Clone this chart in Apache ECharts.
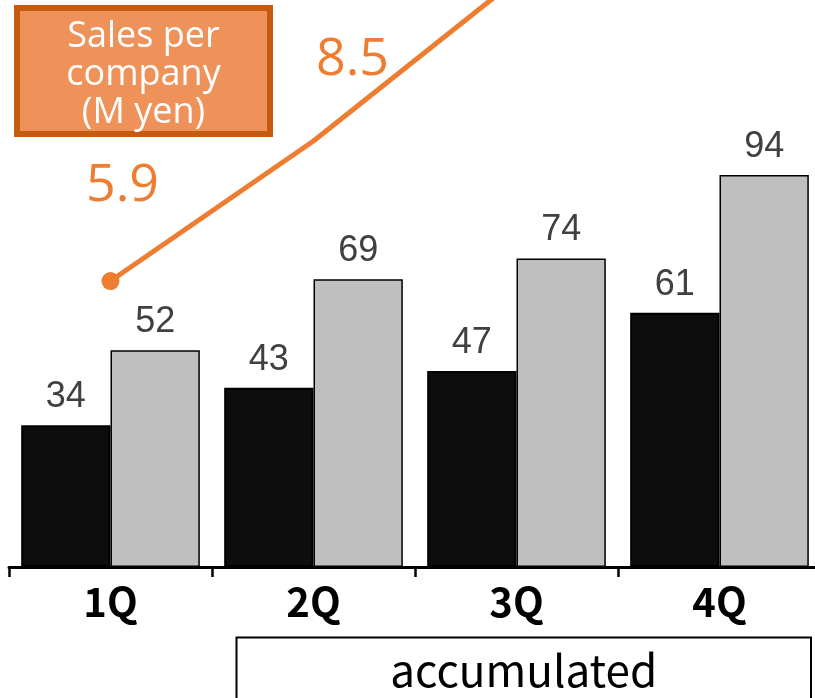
<!DOCTYPE html>
<html>
<head>
<meta charset="utf-8">
<script src="https://cdn.jsdelivr.net/npm/echarts@6/dist/echarts.min.js"></script>
<style>html,body{margin:0;padding:0;background:#fff}#c{width:815px;height:698px}</style>
</head>
<body>
<div id="c"></div>
<script>
var categories = ['1Q', '2Q', '3Q', '4Q'];
var quarterValues = [34, 43, 47, 61];
var accumulatedValues = [52, 69, 74, 94];
var salesPerCompany = [5.9, 8.5, 11.5, 14.2];
var salesLabelShown = [true, true, false, false];
var salesMarkerShown = [true, false, false, false];
var salesLabelOffsets = [[12, -95], [39, -81], [0, 0], [0, 0]];

var chart = echarts.init(document.getElementById('c'));
var lineData = salesPerCompany.map(function (v, i) {
  return {
    value: v,
    symbolSize: salesMarkerShown[i] ? 18 : 0,
    label: { show: salesLabelShown[i], offset: salesLabelOffsets[i] }
  };
});
chart.setOption({
  animation: false,
  grid: { left: 9, width: 812, top: 0, bottom: 131, containLabel: false, outerBoundsMode: 'none' },
  xAxis: {
    type: 'category',
    data: categories,
    axisLine: { lineStyle: { color: '#000', width: 3 } },
    axisTick: { show: true, length: 10, lineStyle: { color: '#000', width: 2.5 } },
    axisLabel: { color: '#000', fontSize: 40, fontWeight: 'bold', fontFamily: 'Noto Sans CJK JP', margin: 15 }
  },
  yAxis: [
    { type: 'value', min: 0, max: 136, show: false, splitLine: { show: false } },
    { type: 'value', min: 0.589, max: 11.12, show: false, splitLine: { show: false } }
  ],
  series: [
    {
      type: 'bar', data: quarterValues, barGap: '0%', barCategoryGap: '12%',
      itemStyle: { color: '#0d0d0d', borderColor: '#000', borderWidth: 2 },
      label: { show: true, position: 'top', distance: 10, color: '#404040', fontSize: 36, fontFamily: 'Liberation Sans' },
      z: 2
    },
    {
      type: 'bar', data: accumulatedValues,
      itemStyle: { color: '#bfbfbf', borderColor: '#000', borderWidth: 1.5 },
      label: { show: true, position: 'top', distance: 10, color: '#404040', fontSize: 36, fontFamily: 'Liberation Sans' },
      z: 2
    },
    {
      type: 'line', yAxisIndex: 1, data: lineData, clip: true,
      symbol: 'circle', showSymbol: true,
      lineStyle: { color: '#ED7D31', width: 5 },
      itemStyle: { color: '#ED7D31' },
      label: { position: 'inside', color: '#ED7D31', fontSize: 52, fontWeight: 500, fontFamily: 'Open Sans' },
      z: 5
    }
  ],
  graphic: [
    {
      type: 'rect', shape: { x: 17, y: 8, width: 253, height: 126 },
      style: { fill: '#EF925A', stroke: '#C55A11', lineWidth: 6 }, z: 10
    },
    {
      type: 'text', x: 143.5, y: 75,
      style: { text: 'Sales per\ncompany\n(M yen)', fill: '#fff', fontSize: 36, fontFamily: 'Open Sans',
               lineHeight: 38, align: 'center', verticalAlign: 'middle' }, z: 11
    },
    {
      type: 'rect', shape: { x: 236.5, y: 637.5, width: 574.5, height: 80 },
      style: { fill: '#fff', stroke: '#000', lineWidth: 2 }, z: 10
    },
    {
      type: 'text', x: 523.7, y: 670,
      style: { text: 'accumulated', fill: '#000', fontSize: 44, fontFamily: 'Noto Sans CJK JP',
               align: 'center', verticalAlign: 'middle' }, z: 11
    }
  ]
});
</script>
</body>
</html>
